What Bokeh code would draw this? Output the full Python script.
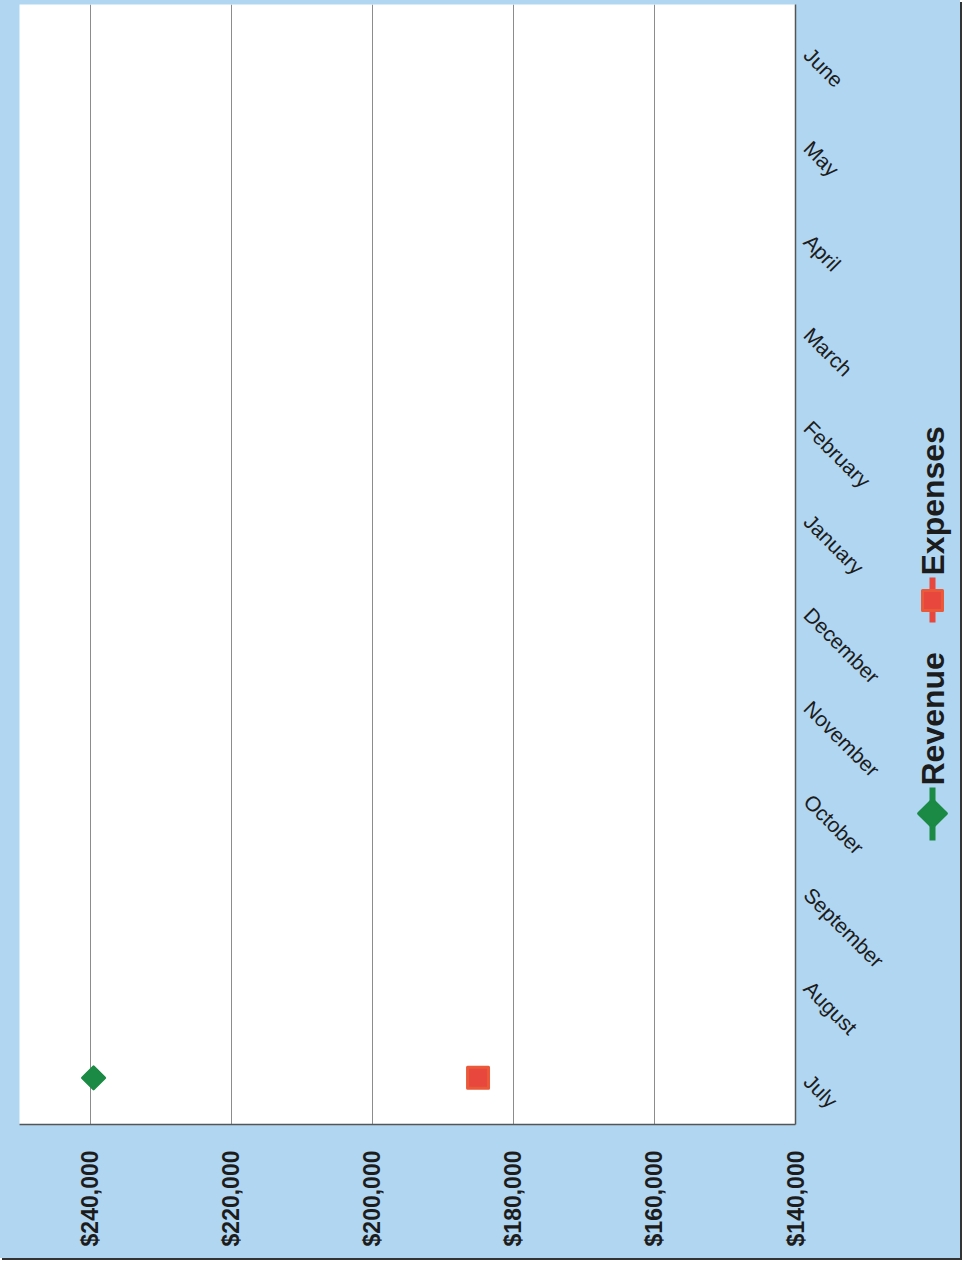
import math

from bokeh.core.properties import value
from bokeh.embed import file_html
from bokeh.models import (FactorRange, FixedTicker, NumeralTickFormatter, Range1d,
                          Row)
from bokeh.plotting import figure
from bokeh.resources import INLINE

NAN = float("nan")

# Monthly figures for the fiscal year (only July has been booked so far)
months = ["July", "August", "September", "October", "November", "December",
          "January", "February", "March", "April", "May", "June"]
revenue = [239500, NAN, NAN, NAN, NAN, NAN, NAN, NAN, NAN, NAN, NAN, NAN]
expenses = [185000, NAN, NAN, NAN, NAN, NAN, NAN, NAN, NAN, NAN, NAN, NAN]
value_ticks = [140000, 160000, 180000, 200000, 220000, 240000]
series_names = ["Revenue", "Expenses"]

FONT = "Liberation Sans"
TEXT = "#1c1c1c"
GREEN = "#1b8a44"
RED = "#e8473d"
RED_EDGE = "#ea5a3a"
PAPER = "#b1d6f1"
SHEET_H = 1258
BORDER_TOP = 4
BORDER_BOTTOM = 134

# ---- main chart: values run across, months run up the right-hand side ----
p = figure(
    x_range=Range1d(250000, 140000),
    y_range=FactorRange(factors=months),
    width=905, height=SHEET_H,
    min_border_left=19, min_border_right=110,
    min_border_top=BORDER_TOP, min_border_bottom=BORDER_BOTTOM,
    x_axis_location="below", y_axis_location="right",
    output_backend="svg", toolbar_location=None,
    background_fill_color="white", border_fill_color=PAPER,
    outline_line_color=None,
)

# value axis, labels turned to read upwards
p.xaxis.ticker = FixedTicker(ticks=value_ticks)
p.xaxis.formatter = NumeralTickFormatter(format="$0,0")
p.xaxis.major_label_orientation = math.pi / 2
p.xaxis.major_label_text_font = FONT
p.xaxis.major_label_text_font_style = "bold"
p.xaxis.major_label_text_font_size = "23px"
p.xaxis.major_label_text_color = TEXT
p.xaxis.major_label_standoff = 26
p.xaxis.major_tick_out = 0
p.xaxis.major_tick_in = 0
p.xaxis.minor_tick_line_color = None
p.xaxis.axis_line_color = "#555555"
p.xaxis.axis_line_width = 1.5

p.xgrid.ticker = FixedTicker(ticks=value_ticks)
p.xgrid.grid_line_color = "#8c8c8c"
p.xgrid.grid_line_width = 1
p.ygrid.grid_line_color = None

# month axis
p.yaxis.major_label_orientation = -math.pi / 4
p.yaxis.major_label_text_font = FONT
p.yaxis.major_label_text_font_size = "21px"
p.yaxis.major_label_text_color = TEXT
p.yaxis.major_label_standoff = 12
p.yaxis.major_tick_out = 0
p.yaxis.major_tick_in = 0
p.yaxis.axis_line_color = "#555555"
p.yaxis.axis_line_width = 1.5

# series
p.line(revenue, months, line_color=GREEN, line_width=6)
p.scatter(revenue, months, marker="square", angle=math.pi / 4, size=16,
          fill_color=GREEN, line_color=GREEN, line_width=2.5, line_join="round")
p.line(expenses, months, line_color=RED, line_width=6)
p.scatter(expenses, months, marker="square", size=21,
          fill_color=RED, line_color=RED_EDGE, line_width=3, line_join="round")

# ---- legend strip, set on its side along the right edge ----
# y counts pixels up from the bottom of the sheet; the frame lines up with the chart's
lg = figure(
    x_range=Range1d(0, 55),
    y_range=Range1d(BORDER_BOTTOM, SHEET_H - BORDER_TOP),
    width=55, height=SHEET_H,
    min_border_left=0, min_border_right=0,
    min_border_top=BORDER_TOP, min_border_bottom=BORDER_BOTTOM,
    x_axis_location=None, y_axis_location=None,
    output_backend="svg", toolbar_location=None,
    background_fill_alpha=0, border_fill_color=PAPER,
    outline_line_color=None,
)
lg.grid.grid_line_color = None

key_x = 27
# Revenue key
lg.segment(x0=[key_x], y0=[418], x1=[key_x], y1=[471], line_color=GREEN, line_width=6)
lg.scatter([key_x], [445], marker="square", angle=math.pi / 4, size=20,
           fill_color=GREEN, line_color=GREEN, line_width=2.5, line_join="round")
# Expenses key
lg.segment(x0=[key_x], y0=[636], x1=[key_x], y1=[681], line_color=RED, line_width=6)
lg.scatter([key_x], [658], marker="square", size=20,
           fill_color=RED, line_color=RED_EDGE, line_width=3, line_join="round")
lg.text(x=[key_x, key_x], y=[473, 683], text=series_names, angle=math.pi / 2,
        text_align="left", text_baseline="middle",
        text_font=value(FONT), text_font_style="bold", text_font_size="32px",
        text_color=TEXT)

page = Row(children=[p, lg], spacing=0,
           styles={"background-color": PAPER, "box-shadow": "2px 2px 0 #333333"})

open("out.html", "w").write(file_html(page, INLINE))
